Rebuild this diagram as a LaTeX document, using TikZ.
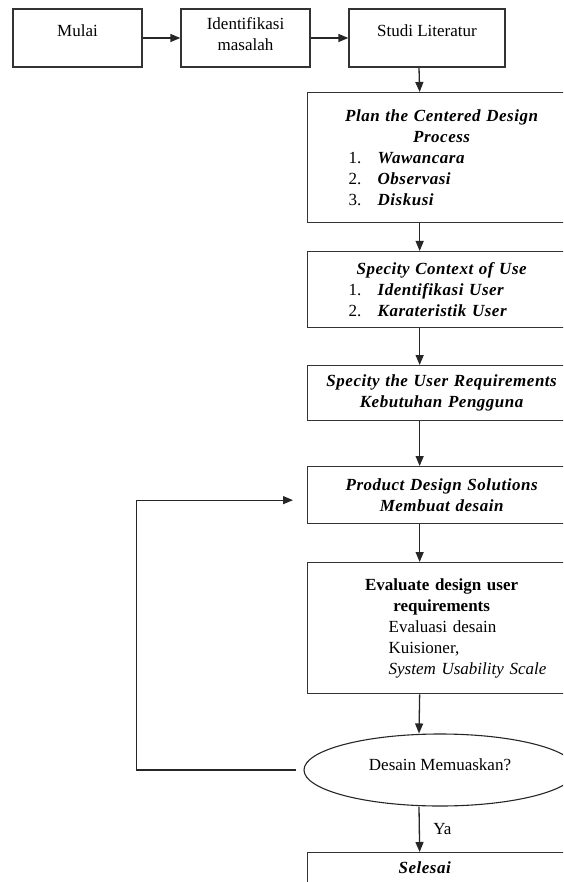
\documentclass[tikz,border=0pt]{standalone}
\usepackage{fontspec}
\setmainfont{Liberation Serif}
\newfontfamily\spacedfamily{Liberation Serif}[LetterSpace=3]
\usepackage{tikz}
\usetikzlibrary{arrows.meta,shapes.geometric}

\newcommand{\bix}[1]{{\spacedfamily\bfseries\itshape #1}}
\newcommand{\numitem}[2]{\makebox[268pt][l]{\hspace*{41pt}\makebox[29pt][l]{#1}\bix{#2}}}
\newcommand{\evalline}[1]{\makebox[268pt][l]{\hspace*{81pt}#1}}

\begin{document}
\begin{tikzpicture}[x=1pt, y=-1pt, >={Triangle[length=10pt,width=8pt]},
    every node/.style={font=\fontsize{17}{21}\selectfont},
    arr/.style={->, line width=1.3pt, draw=black!85},
    topbox/.style={draw=black!80, line width=1.3pt, minimum height=58pt, inner sep=2pt, align=center},
    rbox/.style={draw=black!80, line width=1.3pt, anchor=north west, minimum width=268pt, text width=268pt, inner xsep=0pt, align=center}]
            \useasboundingbox (0,0) rectangle (563,882);
            \clip (0,0) rectangle (563,882);

            % Top row
            \node[topbox, minimum width=129pt, text height=12pt, text depth=14pt] (mulai) at (77.5,38) {Mulai};
            \node[topbox, minimum width=129pt, text width=125pt, text height=12pt, text depth=29pt] (ident) at (245.5,38) {Identifikasi\\masalah};
            \node[topbox, minimum width=156pt, text height=12pt, text depth=14pt] (studi) at (427,38) {Studi Literatur};

            % Right column
            \node[rbox, minimum height=130pt] (plan) at (307,92) {\bix{Plan the Centered Design}\\\bix{Process}\\
                \numitem{1.}{Wawancara}\\\numitem{2.}{Observasi}\\\numitem{3.}{Diskusi}};
            \node[rbox, minimum height=76pt] (ctx) at (307,251) {\bix{Specity Context of Use}\\
                \numitem{1.}{Identifikasi User}\\\numitem{2.}{Karateristik User}};
            \node[rbox, minimum height=55pt] (req) at (307,365) {\bix{Specity the User Requirements}\\\bix{Kebutuhan Pengguna}};
            \node[rbox, minimum height=57pt] (prod) at (307,466) {\bix{Product Design Solutions}\\\bix{Membuat desain}};
            \node[rbox, minimum height=131pt] (eval) at (307,562) {{\bfseries Evaluate design user}\\{\bfseries requirements}\\
                \evalline{Evaluasi desain}\\\evalline{Kuisioner,}\\\evalline{\textit{System Usability Scale}}};
            \node[draw=black!85, line width=1.1pt, ellipse, minimum width=272pt, minimum height=72pt, inner sep=0pt,
                text height=12pt, text depth=12pt] (dec) at (440,770) {Desain Memuaskan?};
            \node[rbox, inner ysep=9pt, text height=12pt, text depth=30pt] (selesai) at (307,852)
                {\makebox[268pt][l]{\hspace*{91pt}\bix{Selesai}}};

            % Arrows
            \draw[arr] (mulai) -- (ident);
            \draw[arr] (ident.east) -- (studi.west);
            \draw[arr] ([xshift=-8pt]studi.south) -- ([xshift=-22pt]plan.north);
            \draw[arr] ([xshift=-22pt]plan.south) -- ([xshift=-22pt]ctx.north);
            \draw[arr] ([xshift=-22pt]ctx.south) -- ([xshift=-22pt]req.north);
            \draw[arr] ([xshift=-22pt]req.south) -- ([xshift=-22pt]prod.north);
            \draw[arr] ([xshift=-22pt]prod.south) -- ([xshift=-22pt]eval.north);
            \draw[arr] ([xshift=-22pt]eval.south) -- ([xshift=-21pt]dec.north);
            \draw[arr] ([xshift=-21pt]dec.south) -- ([xshift=-22pt]selesai.north) node[midway, right=10pt] {Ya};

            % Loop back
            \draw[arr, shorten <=7pt, shorten >=14pt] (dec.west) -- ++(-167,0) |- ([yshift=-5pt]prod.west);
        \end{tikzpicture}
\end{document}
